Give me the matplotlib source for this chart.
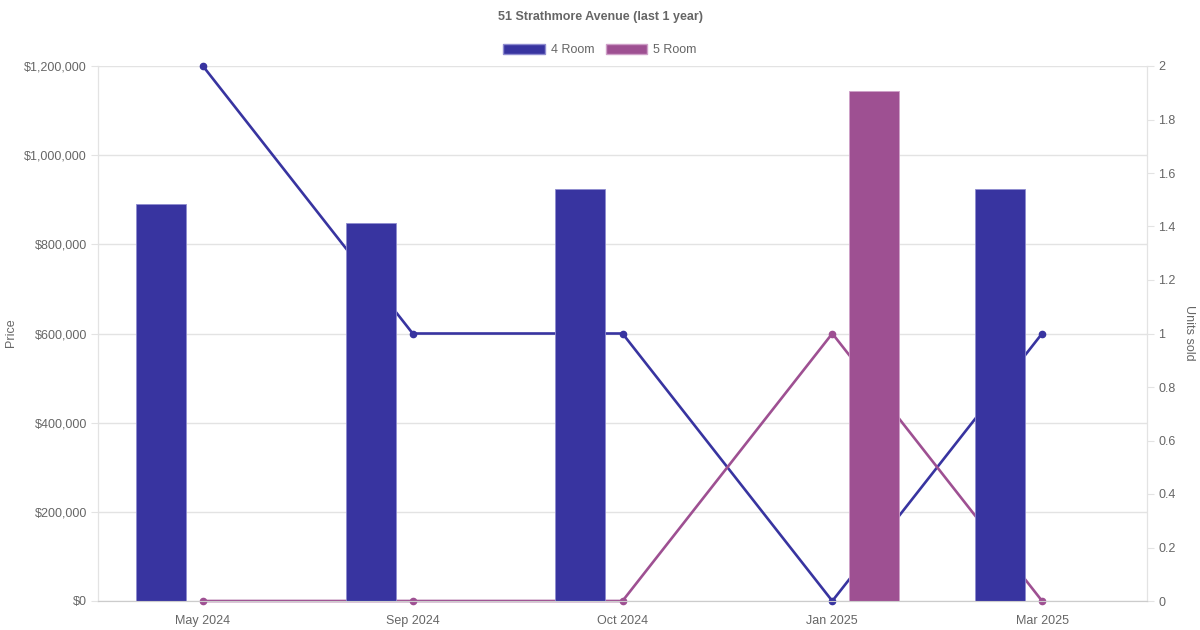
import numpy as np
import matplotlib
matplotlib.use("Agg")
import matplotlib.pyplot as plt
from matplotlib.patches import Patch
from matplotlib.ticker import FuncFormatter

plt.rcParams['font.family'] = ['Liberation Sans', 'DejaVu Sans']

months = ['May 2024', 'Sep 2024', 'Oct 2024', 'Jan 2025', 'Mar 2025']
price_4room = [890000, 848000, 923000, np.nan, 923000]
price_5room = [np.nan, np.nan, np.nan, 1143000, np.nan]
units_4room = [2, 1, 1, 0, 1]
units_5room = [0, 0, 0, 1, 0]

c4 = '#3834a0'
c5 = '#9e5092'
edge4 = '#8f8cd0'
edge5 = '#cfa0c8'
txt = '#666666'
grid_c = '#e3e3e3'

fig = plt.figure(figsize=(12, 6.3), dpi=100)
ax = fig.add_axes([98 / 1200, 1 - 601 / 630, (1147 - 98) / 1200, (601 - 66) / 630])
ax2 = ax.twinx()

x = np.arange(len(months))
bw = 50 / 209.5
off = 42 / 209.5

ax.set_xlim(-0.5, len(months) - 0.5)
ax.set_ylim(0, 1200000)
ax2.set_ylim(0, 2)

# grid first, then lines, bars on top
ax.set_axisbelow(True)
ax.grid(axis='y', color=grid_c, lw=1)
ax.grid(axis='x', visible=False)

ax.plot(x, units_4room, color=c4, lw=1.9, marker='o', ms=4.5, transform=ax2.transData,
        zorder=1, clip_on=False)
ax.plot(x, units_5room, color=c5, lw=1.9, marker='o', ms=4.5, transform=ax2.transData,
        zorder=1, clip_on=False)

ax.bar(x - off, price_4room, bw, color=c4, edgecolor=edge4, lw=0.6, zorder=2)
ax.bar(x + off, price_5room, bw, color=c5, edgecolor=edge5, lw=0.6, zorder=2)

ax.set_zorder(ax2.get_zorder() + 1)
ax.patch.set_visible(False)

ax.set_yticks(np.arange(0, 1200001, 200000))
ax.yaxis.set_major_formatter(FuncFormatter(lambda v, p: '${:,.0f}'.format(v)))
ax.set_xticks(x)
ax.set_xticklabels(months)
ax.tick_params(axis='x', length=0, pad=10, labelsize=9, labelcolor=txt)
ax.tick_params(axis='y', length=5, color=grid_c, pad=3, labelsize=9, labelcolor=txt)

ax2.set_yticks(np.arange(0, 2.01, 0.2))
ax2.yaxis.set_major_formatter(FuncFormatter(lambda v, p: '{:g}'.format(round(v, 1))))
ax2.tick_params(axis='y', length=5, color=grid_c, pad=3, labelsize=9, labelcolor=txt)

for a in (ax, ax2):
    a.spines['top'].set_visible(False)
    a.spines['left'].set_color(grid_c)
    a.spines['right'].set_color(grid_c)
    a.spines['bottom'].set_color('#cccccc')

mid_y = 1 - 333 / 630
fig.text(11 / 1200, mid_y, 'Price', rotation=90, ha='center', va='center',
         color=txt, fontsize=9)
fig.text(1189 / 1200, mid_y, 'Units sold', rotation=270, ha='center', va='center',
         color=txt, fontsize=9)

fig.text(0.5, 1 - 17 / 630, '51 Strathmore Avenue (last 1 year)', ha='center', va='center',
         fontsize=9, fontweight='bold', color=txt)

handles = [Patch(facecolor=c4, edgecolor=edge4, label='4 Room'),
           Patch(facecolor=c5, edgecolor=edge5, label='5 Room')]
fig.legend(handles=handles, loc='center', bbox_to_anchor=(0.5, 1 - 50 / 630), ncol=2,
           frameon=False, fontsize=9, labelcolor=txt, handlelength=3.3, handleheight=0.9,
           handletextpad=0.5, columnspacing=0.9)

fig.savefig('out.png', dpi=100)
